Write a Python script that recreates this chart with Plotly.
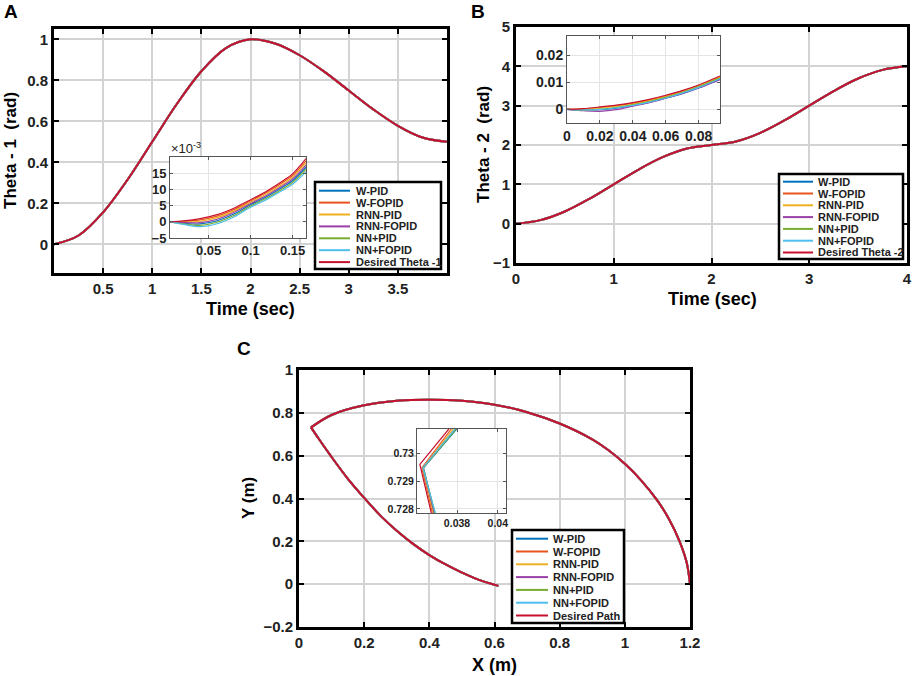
import plotly.graph_objects as go

W, H = 913, 676
FONT = "Liberation Sans, Arial, sans-serif"

# legend names / colours (MATLAB default order)
names = ["W-PID", "W-FOPID", "RNN-PID", "RNN-FOPID", "NN+PID", "NN+FOPID"]
ref_names = ["Desired Theta -1", "Desired Theta -2", "Desired Path"]
colors = ["#0072BD", "#E8531F", "#EDB120", "#9B3FA8", "#77AC30", "#4DBEEE", "#C8102E"]

# ---- panel A : theta 1 ----
t_main = [0, 0.25, 0.5, 0.75, 1, 1.25, 1.5, 1.75, 2, 2.25, 2.5, 2.75, 3, 3.25, 3.5, 3.75, 4]
theta1_ref = [0, 0.043, 0.156, 0.316, 0.5, 0.684, 0.844, 0.957, 1.0,
              0.979, 0.922, 0.842, 0.75, 0.658, 0.578, 0.521, 0.5]

# inset A (values x 1e-3)
insA_t = [0.004, 0.02, 0.04, 0.06, 0.08, 0.10, 0.12, 0.14, 0.15, 0.166]
insA_wpid = [0, -0.43, -0.67, 0.33, 2.4, 5.27, 7.87, 10.97, 12.67, 16.83]
insA_wfopid = [0, 0.12, 0.58, 1.73, 3.75, 6.42, 9.17, 12.42, 14.27, 18.83]
insA_rnnpid = [0, -0.07, 0.17, 1.27, 3.3, 6.03, 8.73, 11.93, 13.73, 18.17]
insA_rnnfopid = [0, -0.25, -0.25, 0.8, 2.85, 5.65, 8.3, 11.45, 13.2, 17.5]
insA_nnpid = [0, -0.62, -1.08, -0.13, 1.95, 4.88, 7.43, 10.48, 12.13, 16.17]
insA_nnfopid = [0, -0.8, -1.5, -0.6, 1.5, 4.5, 7.0, 10.0, 11.6, 15.5]
insA_ref = [0, 0.3, 1.0, 2.2, 4.2, 6.8, 9.6, 12.9, 14.8, 19.5]

# ---- panel B : theta 2 ----
theta2_ref = [0, 0.09, 0.31, 0.63, 1.0, 1.37, 1.69, 1.91, 2.0,
              2.09, 2.31, 2.63, 3.0, 3.37, 3.69, 3.91, 4.0]

insB_t = [0, 0.01, 0.02, 0.03, 0.04, 0.05, 0.06, 0.07, 0.08, 0.093]
insB_wpid = [0, -0.0002, -0.0001, 0.0005, 0.0014, 0.0026, 0.0041, 0.0058, 0.0079, 0.0111]
insB_wfopid = [0, 0.0002, 0.0007, 0.0013, 0.0022, 0.0034, 0.0049, 0.0067, 0.0088, 0.0120]
insB_rnnpid = [0, 0.0001, 0.0005, 0.0011, 0.0020, 0.0032, 0.0047, 0.0065, 0.0086, 0.0118]
insB_rnnfopid = [0, -0.0005, -0.0007, -0.0001, 0.0012, 0.0025, 0.0041, 0.0058, 0.0079, 0.0110]
insB_nnpid = [0, -0.0003, 0.0000, 0.0007, 0.0017, 0.0029, 0.0044, 0.0062, 0.0083, 0.0115]
insB_nnfopid = [0, -0.0002, 0.0000, 0.0006, 0.0015, 0.0027, 0.0042, 0.0060, 0.0081, 0.0113]
insB_ref = [0, 0.0003, 0.0009, 0.0016, 0.0025, 0.0037, 0.0052, 0.0069, 0.0090, 0.0123]

# ---- panel C : X-Y path ----
pathC_upper_x = [1.200, 1.190, 1.168, 1.137, 1.100, 1.050, 1.000, 0.950, 0.900, 0.800,
                 0.700, 0.600, 0.500, 0.400, 0.300, 0.200, 0.100, 0.037]
pathC_upper_y = [0.000, 0.100, 0.200, 0.300, 0.390, 0.485, 0.562, 0.625, 0.676, 0.750,
                 0.803, 0.838, 0.856, 0.861, 0.856, 0.835, 0.790, 0.732]
pathC_lower_x = [0.037, 0.060, 0.097, 0.150, 0.200, 0.250, 0.300, 0.350, 0.400,
                 0.450, 0.500, 0.550, 0.612]
pathC_lower_y = [0.732, 0.680, 0.600, 0.492, 0.403, 0.320, 0.249, 0.188, 0.136,
                 0.092, 0.054, 0.021, -0.008]

insC_y = [0.73087, 0.72947, 0.72785]
insC_y_ref = [0.73087, 0.72960, 0.72785]
insC_wpid = [0.03798, 0.03636, 0.03690]
insC_wfopid = [0.03772, 0.03628, 0.03680]
insC_rnnpid = [0.03782, 0.03632, 0.03684]
insC_rnnfopid = [0.03792, 0.03634, 0.03688]
insC_nnpid = [0.03795, 0.03635, 0.03692]
insC_nnfopid = [0.03790, 0.03633, 0.03694]
insC_ref = [0.03760, 0.03618, 0.03674]


# window pixel -> paper fraction
def px(x):
    return x / W


def py(y):
    return 1 - y / H


fig = go.Figure()

# main A and B (controllers lie under the desired curve)
for i in range(7):
    fig.add_trace(go.Scatter(x=t_main, y=theta1_ref, xaxis="x", yaxis="y", mode="lines",
                             line=dict(color=colors[i], width=2, shape="spline")))
for i in range(7):
    fig.add_trace(go.Scatter(x=t_main, y=theta2_ref, xaxis="x3", yaxis="y3", mode="lines",
                             line=dict(color=colors[i], width=2, shape="spline")))
path_x = pathC_upper_x + [None] + pathC_lower_x
path_y = pathC_upper_y + [None] + pathC_lower_y
for i in range(7):
    fig.add_trace(go.Scatter(x=path_x, y=path_y, xaxis="x5", yaxis="y5", mode="lines",
                             line=dict(color=colors[i], width=2, shape="spline")))

insA = [insA_wpid, insA_wfopid, insA_rnnpid, insA_rnnfopid, insA_nnpid, insA_nnfopid, insA_ref]
for i, v in enumerate(insA):
    fig.add_trace(go.Scatter(x=insA_t, y=v, xaxis="x2", yaxis="y2", mode="lines",
                             line=dict(color=colors[i], width=1.2, shape="spline")))
insB = [insB_wpid, insB_wfopid, insB_rnnpid, insB_rnnfopid, insB_nnpid, insB_nnfopid, insB_ref]
for i, v in enumerate(insB):
    fig.add_trace(go.Scatter(x=insB_t, y=v, xaxis="x4", yaxis="y4", mode="lines",
                             line=dict(color=colors[i], width=1.2, shape="spline")))
insC = [insC_wpid, insC_wfopid, insC_rnnpid, insC_rnnfopid, insC_nnpid, insC_nnfopid, insC_ref]
for i, v in enumerate(insC):
    yy = insC_y_ref if i == 6 else insC_y
    fig.add_trace(go.Scatter(x=v, y=yy, xaxis="x6", yaxis="y6", mode="lines",
                             line=dict(color=colors[i], width=1.2)))


def main_ax(dom, rng, anchor, **kw):
    return dict(domain=dom, range=rng, anchor=anchor, automargin=False, showline=True,
                linecolor="black", linewidth=3, mirror="allticks", ticks="inside", ticklen=5,
                tickwidth=2, tickcolor="black", showgrid=True, gridcolor="#d3d3d3",
                gridwidth=1.5, zeroline=False,
                tickfont=dict(family=FONT, size=15, color="#222", weight="bold"), **kw)


def inset_ax(dom, rng, anchor, size, **kw):
    return dict(domain=dom, range=rng, anchor=anchor, automargin=False, showline=True,
                linecolor="#555", linewidth=1, mirror="allticks", ticks="inside", ticklen=3,
                tickwidth=1, tickcolor="#555", showgrid=True, gridcolor="#e4e4e4",
                gridwidth=1, zeroline=False,
                tickfont=dict(family=FONT, size=size, color="#222", weight="bold"), **kw)


fig.update_layout(
    width=W, height=H, margin=dict(l=0, r=0, t=0, b=0, autoexpand=False),
    paper_bgcolor="white", plot_bgcolor="white", showlegend=False,
    xaxis=main_ax([px(54), px(447)], [0, 4], "y", tickvals=[0.5, 1, 1.5, 2, 2.5, 3, 3.5]),
    yaxis=main_ax([py(273), py(29)], [-0.14, 1.05], "x", tickvals=[0, 0.2, 0.4, 0.6, 0.8, 1]),
    xaxis2=inset_ax([px(170), px(306)], [0.004, 0.166], "y2", 13, tickvals=[0.05, 0.1, 0.15]),
    yaxis2=inset_ax([py(238), py(157)], [-5, 20], "x2", 13, tickvals=[-5, 0, 5, 10, 15]),
    xaxis3=main_ax([px(516), px(907)], [0, 4], "y3", dtick=1),
    yaxis3=main_ax([py(263), py(27)], [-1, 5], "x3", dtick=1),
    xaxis4=inset_ax([px(567), px(720)], [0, 0.093], "y4", 14, tickvals=[0, 0.02, 0.04, 0.06, 0.08]),
    yaxis4=inset_ax([py(123), py(36)], [-0.005, 0.027], "x4", 14, tickvals=[0, 0.01, 0.02]),
    xaxis5=main_ax([px(299), px(690)], [0, 1.2], "y5", dtick=0.2),
    yaxis5=main_ax([py(627), py(370)], [-0.2, 1], "x5", dtick=0.2),
    xaxis6=inset_ax([px(417), px(506)], [0.03604, 0.0404], "y6", 10.5, tickvals=[0.038, 0.04]),
    yaxis6=inset_ax([py(513), py(429)], [0.72785, 0.73087], "x6", 10.5,
                    tickvals=[0.728, 0.729, 0.73]),
)

# text labels
labels = [
    ("A", 11, 12, 19, 0), ("B", 478, 11, 19, 0), ("C", 244, 348, 19, 0),
    ("Theta - 1  (rad)", 11, 151, 17, -90), ("Time (sec)", 250, 309, 18, 0),
    ("Theta - 2  (rad)", 483, 145, 17, -90), ("Time (sec)", 712, 299, 18, 0),
    ("Y (m)", 248, 498, 17, -90), ("X (m)", 494, 665, 18, 0),
]
for txt, x, y, s, ang in labels:
    fig.add_annotation(text=txt, x=px(x), y=py(y), xref="paper", yref="paper",
                       showarrow=False, textangle=ang, xanchor="center", yanchor="middle",
                       font=dict(family=FONT, size=s, color="black", weight="bold"))
fig.add_annotation(text="×10<sup>-3</sup>", x=px(169), y=py(148), xref="paper", yref="paper",
                   showarrow=False, xanchor="left", yanchor="middle",
                   font=dict(family=FONT, size=13, color="#222"))

# hand-made legends (MATLAB style compact boxes)
legends = [
    (315, 441, 182, 269, 190.7, 11.9, 319, 350, 355, ref_names[0]),
    (779, 903, 174, 259, 181.7, 11.8, 783, 813, 817, ref_names[1]),
    (512, 624, 530, 623, 538.7, 12.8, 516, 548, 552, ref_names[2]),
]
for x0, x1, y0, y1, first, step, lx0, lx1, tx, ref in legends:
    fig.add_shape(type="rect", xref="paper", yref="paper", x0=px(x0), x1=px(x1),
                  y0=py(y1), y1=py(y0), fillcolor="white", line=dict(color="black", width=2.5))
    for i, nm in enumerate(names + [ref]):
        yy = first + i * step
        fig.add_shape(type="line", xref="paper", yref="paper", x0=px(lx0), x1=px(lx1),
                      y0=py(yy), y1=py(yy), line=dict(color=colors[i], width=2))
        fig.add_annotation(text=nm, x=px(tx), y=py(yy), xref="paper", yref="paper",
                           showarrow=False, xanchor="left", yanchor="middle", borderpad=0,
                           font=dict(family=FONT, size=11, color="#222", weight="bold"))

# drop the browser's default page margin so the figure sits at the window corner
fig.write_html("out.html", config={"displayModeBar": False},
               post_script="document.body.style.margin='0';")
